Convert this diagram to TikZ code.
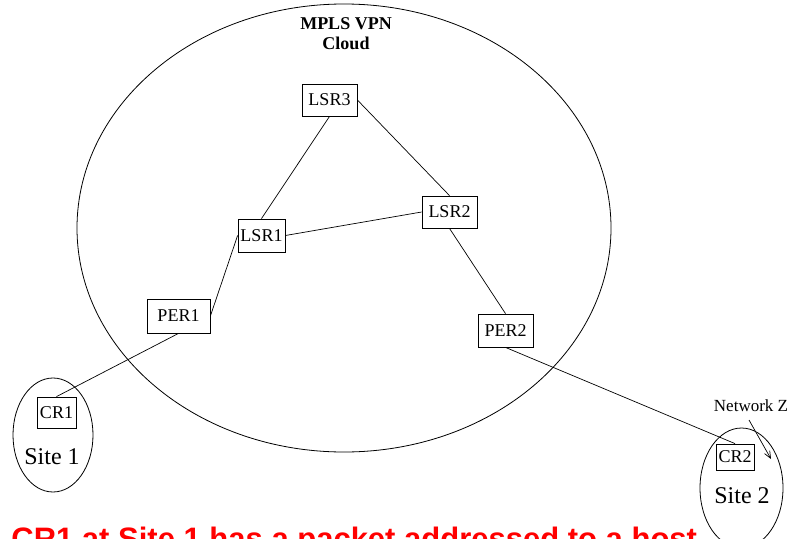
\documentclass[tikz,border=0pt]{standalone}
\usepackage{fontspec}
\setmainfont{Liberation Serif}
\newfontfamily\msgfont{Liberation Sans}
\usetikzlibrary{arrows.meta}
\begin{document}
\begin{tikzpicture}[x=1pt,y=-1pt,
  line width=0.8pt,
  router/.style={draw, inner sep=0pt, font=\fontsize{18}{20}\selectfont},
  site/.style={font=\fontsize{24}{26}\selectfont, inner sep=0pt},
  link/.style={draw, line width=0.7pt}]
\useasboundingbox (0,0) rectangle (794,538);
\clip (0,0) rectangle (794,538);

% provider cloud and the two customer sites
\draw (344,228) ellipse [x radius=267, y radius=224];
\draw (53,435) ellipse [x radius=40, y radius=57];
\draw (741.5,488) ellipse [x radius=41.5, y radius=60];

\node[font=\bfseries\fontsize{18}{20}\selectfont, align=center, inner sep=0pt] (cloud) at (346,34) {MPLS VPN\\Cloud};

% routers
\node[router, minimum width=55pt, minimum height=32pt] (lsr3) at (329.5,100) {LSR3};
\node[router, minimum width=55pt, minimum height=32pt] (lsr2) at (449.5,212) {LSR2};
\node[router, minimum width=47pt, minimum height=33pt] (lsr1) at (261.5,235.5) {LSR1};
\node[router, minimum width=63pt, minimum height=34pt] (per1) at (178.5,316) {PER1};
\node[router, minimum width=55pt, minimum height=33pt] (per2) at (505.5,330.5) {PER2};
\node[router, minimum width=39pt, minimum height=31pt] (cr1) at (56.5,412.5) {CR1};
\node[router, minimum width=38pt, minimum height=26pt] (cr2) at (735,457) {CR2};

\node[site] (site1) at (52,457) {Site 1};
\node[site] (site2) at (742,496) {Site 2};

\node[font=\fontsize{17}{19}\selectfont, inner sep=0pt] (netz) at (751,406) {Network Z};

% links
\draw[link] (cr1.north) -- (per1.south);
\draw[link] (per1.east) -- (lsr1.west);
\draw[link] (lsr1.north) -- (lsr3.south);
\draw[link] (lsr1.east) -- (lsr2.west);
\draw[link] (lsr3.east) -- (lsr2.north);
\draw[link] (lsr2.south) -- (per2.north);
\draw[link] (per2.south) -- (cr2.north);

\coordinate (zstart) at (749,420);
\coordinate (zend) at (771,459);
\draw[link, -{Straight Barb[length=7pt,width=6pt]}] (zstart) -- (zend);

\node[anchor=base west, inner sep=0pt, text=red,
      font=\msgfont\bfseries\fontsize{31}{37}\selectfont] (msg) at (11,549)
  {CR1 at Site 1 has a packet addressed to a host};
\end{tikzpicture}
\end{document}
